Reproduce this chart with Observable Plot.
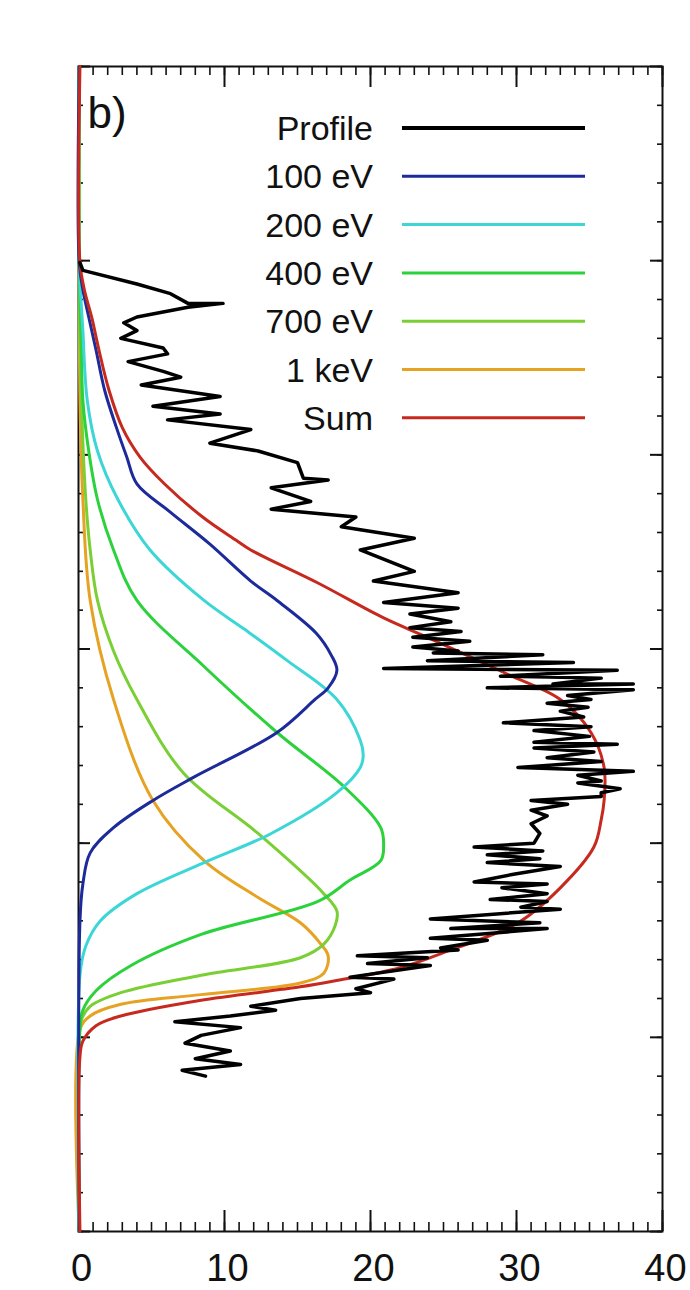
<!DOCTYPE html>
<html><head><meta charset="utf-8">
<script src="https://cdn.jsdelivr.net/npm/d3@7"></script>
<script src="https://cdn.jsdelivr.net/npm/@observablehq/plot@0.6"></script>
<style>
html,body{margin:0;padding:0;background:#fff;}
#chart{position:relative;width:690px;height:1290px;overflow:hidden;}
</style></head><body><div id="chart"></div>
<script>
// ---- data: [depth, intensity] ----
const seriesNames = ["Profile", "100 eV", "200 eV", "400 eV", "700 eV", "1 keV", "Sum"];
const seriesColors = ["#000000", "#1c2a9a", "#3cd6d6", "#2bd23c", "#7acf34", "#e6a222", "#c62a1e"];
const xMajorTicks = [0, 10, 20, 30, 40];
const xMinorTicks = d3.range(0, 41, 1);
const yMajorTicks = [0, 10, 20, 30, 40, 50, 60];
const yMinorTicks = d3.range(0, 61, 2);

const profile = [[10.1,0.1],[10.5,0.3],[11.2,4.0],[11.7,6.3],[12.2,7.5],[12.2,9.9],[12.4,7.5],[12.9,4.0],[13.2,3.1],[13.6,4.0],[14.0,2.9],[14.5,5.8],[14.8,6.1],[15.2,3.4],[15.7,5.8],[16.0,7.0],[16.4,4.3],[17.0,9.7],[17.5,5.1],[17.9,9.7],[18.2,6.1],[18.7,11.8],[19.4,9.0],[19.8,12.3],[20.4,15.0],[21.2,15.4],[21.3,17.1],[21.7,13.2],[22.4,15.9],[22.8,13.2],[23.2,19.0],[23.7,18.0],[24.3,23.0],[24.9,19.3],[26.0,23.0],[26.5,20.2],[27.1,26.0],[27.6,20.9],[27.9,26.0],[28.2,22.7],[28.6,25.5],[28.9,22.7],[29.1,26.2],[29.4,22.9],[29.6,26.8],[29.9,22.9],[30.1,26.0],[30.2,24.3],[30.3,31.8],[30.6,23.9],[30.7,33.9],[31.0,20.9],[31.1,36.9],[31.4,28.9],[31.5,35.8],[31.8,32.5],[31.8,38.0],[32.0,28.0],[32.1,38.0],[32.4,33.5],[32.6,35.1],[32.8,32.1],[33.0,34.9],[33.2,33.0],[33.5,34.6],[33.8,29.1],[34.0,35.1],[34.2,31.2],[34.5,35.0],[34.8,31.2],[34.9,36.9],[35.1,31.2],[35.3,35.3],[35.6,32.1],[35.8,35.8],[36.1,30.1],[36.3,38.0],[36.5,34.2],[36.8,35.8],[36.9,34.2],[37.2,37.1],[37.4,35.8],[37.6,35.8],[37.8,31.0],[38.0,33.5],[38.3,31.0],[38.6,32.1],[39.0,31.0],[39.5,31.6],[40.0,31.2],[40.2,27.1],[40.4,31.8],[40.6,28.0],[40.8,31.6],[41.0,28.0],[41.2,33.0],[41.6,29.8],[42.0,27.1],[42.1,32.1],[42.3,29.0],[42.6,32.1],[42.9,28.2],[43.0,32.1],[43.3,30.3],[43.4,33.0],[43.9,24.1],[44.1,31.6],[44.4,25.5],[44.4,32.1],[44.9,24.1],[45.0,28.0],[45.4,24.8],[45.5,26.0],[45.8,19.1],[45.9,23.9],[46.2,19.8],[46.3,24.1],[46.9,18.6],[47.0,21.6],[47.5,19.0],[47.7,20.0],[48.0,15.2],[48.4,11.8],[48.6,13.5],[48.9,10.4],[49.2,6.6],[49.5,11.1],[49.9,8.4],[50.3,7.3],[50.7,10.4],[51.1,8.0],[51.4,11.1],[51.7,7.1],[52.0,8.7]];

const ev100 = [[0,0.05],[10.1,0.05],[11.5,0.3],[12.9,0.7],[14.6,1.2],[16.7,1.8],[18.6,2.6],[20.1,3.3],[21.5,4.0],[22.9,6.2],[24.6,9.0],[26.5,11.8],[27.5,13.6],[29.2,16.3],[30.3,17.3],[31.1,17.7],[32.0,17.1],[32.6,16.2],[34.3,13.6],[36.6,7.9],[37.8,5.1],[39.2,2.4],[40.5,0.8],[42.1,0.3],[44,0.1],[60,0.05]];

const ev200 = [[0,0.05],[10.1,0.05],[13.6,0.3],[17.2,0.6],[19.8,1.3],[22.3,2.7],[24.9,4.9],[27.5,8.6],[29.0,11.4],[30.6,14.3],[32.6,17.7],[34.7,19.3],[35.5,19.5],[36.1,19.3],[37.4,17.7],[39.5,13.2],[41.0,8.6],[42.6,4.0],[44.0,1.5],[45.3,0.5],[46.8,0.1],[60,0.05]];

const ev400 = [[0,0.05],[10.1,0.05],[14.6,0.2],[17.2,0.3],[19.8,0.7],[22.3,1.3],[24.9,2.4],[27.5,4.0],[30.9,8.6],[34.3,13.6],[37.1,18.2],[39.2,20.7],[40.1,20.9],[40.9,20.7],[41.9,18.6],[43.0,16.4],[44.7,8.4],[46.3,3.6],[47.6,1.2],[48.6,0.3],[49.6,0.1],[60,0.05]];

const ev700 = [[0,0.05],[10.1,0.05],[17.2,0.2],[22.3,0.5],[24.9,0.8],[27.5,1.3],[30.1,2.4],[32.6,4.0],[36.4,7.2],[39.5,12.3],[42.6,16.8],[43.5,17.7],[44.2,17.6],[45.2,16.8],[45.9,15.2],[46.8,8.4],[47.7,2.9],[48.4,0.8],[49.1,0.2],[50.2,0.05],[60,0.05]];

const kev1 = [[0,0.05],[10.1,0.05],[17.2,0.1],[22.3,0.3],[27.5,0.8],[32.6,2.4],[37.8,5.1],[40.9,8.6],[42.8,12.3],[44.1,15.2],[45.2,16.6],[45.8,17.1],[46.7,16.8],[47.2,15.2],[47.8,8.4],[48.3,2.9],[48.9,0.8],[49.6,0.1],[60,0.05]];

const sum = [[0,0.1],[10.1,0.1],[11.5,0.4],[12.9,0.9],[14.6,1.4],[16.7,2.1],[18.6,3.0],[20.1,4.2],[21.5,5.9],[23.2,8.5],[24.4,10.8],[24.9,11.8],[26.6,16.4],[28.4,20.9],[29.4,23.9],[31.3,29.4],[32.6,33.0],[34.3,35.1],[36.1,36.0],[37.8,36.0],[38.8,35.8],[40.2,35.3],[42.3,33.0],[44.1,30.1],[45.5,25.5],[46.4,22.1],[47.1,17.5],[47.4,15.2],[48.1,8.3],[48.9,2.9],[49.4,1.2],[50.2,0.3],[51,0.1],[60,0.1]];

// ---- layout ----
const W = 690, H = 1290;
const mL = 78, mR = 28, mT = 66, mB = 59;
const yUnitPx = (H - mT - mB) / 60;
const xUnitPx = (W - mL - mR) / 40;
const font = "'Liberation Sans', Arial, Helvetica, sans-serif";

function lineMark(data, i, curve) {
  return Plot.line(data, {x: d => d[1], y: d => d[0], stroke: seriesColors[i],
    strokeWidth: i === 0 ? 3.5 : 3, curve: curve, strokeLinejoin: "round"});
}

const plot = Plot.plot({
  width: W, height: H,
  marginLeft: mL, marginRight: mR, marginTop: mT, marginBottom: mB,
  x: {domain: [0, 40]},
  y: {domain: [0, 60], reverse: true, axis: null},
  style: {fontFamily: font, background: "#fff", overflow: "visible", color: "#111"},
  marks: [
    Plot.frame({stroke: "#111", strokeWidth: 2}),
    // x ticks (bottom and top, inward)
    Plot.ruleX(xMinorTicks, {x: d => d, y1: 60, y2: 60 - 9 / yUnitPx, stroke: "#111", strokeWidth: 1.6}),
    Plot.ruleX(xMajorTicks, {x: d => d, y1: 60, y2: 60 - 21 / yUnitPx, stroke: "#111", strokeWidth: 2}),
    Plot.ruleX(xMinorTicks, {x: d => d, y1: 0, y2: 9 / yUnitPx, stroke: "#111", strokeWidth: 1.6}),
    Plot.ruleX(xMajorTicks, {x: d => d, y1: 0, y2: 21 / yUnitPx, stroke: "#111", strokeWidth: 2}),
    // y ticks (left and right, inward)
    Plot.ruleY(yMinorTicks, {y: d => d, x1: 0, x2: 5 / xUnitPx, stroke: "#111", strokeWidth: 1.6}),
    Plot.ruleY(yMajorTicks, {y: d => d, x1: 0, x2: 12 / xUnitPx, stroke: "#111", strokeWidth: 2}),
    Plot.ruleY(yMinorTicks, {y: d => d, x1: 40, x2: 40 - 5 / xUnitPx, stroke: "#111", strokeWidth: 1.6}),
    Plot.ruleY(yMajorTicks, {y: d => d, x1: 40, x2: 40 - 12 / xUnitPx, stroke: "#111", strokeWidth: 2}),
    Plot.axisX(xMajorTicks, {anchor: "bottom", tickSize: 0, tickPadding: 23, fontSize: 38, dx: 3, fill: "#111"}),
    lineMark(kev1, 5, "catmull-rom"),
    lineMark(ev700, 4, "catmull-rom"),
    lineMark(ev400, 3, "catmull-rom"),
    lineMark(ev200, 2, "catmull-rom"),
    lineMark(ev100, 1, "catmull-rom"),
    lineMark(sum, 6, "catmull-rom"),
    lineMark(profile, 0, "linear")
  ]
});

// ---- legend and panel label (inside the frame) ----
const svg = d3.select(plot);
const lg = svg.append("g").attr("font-family", font);
const rowStart = 128, rowStep = 48.3;
seriesNames.forEach((name, i) => {
  const cy = rowStart + i * rowStep;
  lg.append("text").attr("x", 373).attr("y", cy + 12).attr("text-anchor", "end")
    .attr("font-size", 34).attr("fill", "#111").text(name);
  lg.append("line").attr("x1", 402).attr("x2", 585).attr("y1", cy).attr("y2", cy)
    .attr("stroke", seriesColors[i]).attr("stroke-width", i === 0 ? 4 : 3);
});
svg.append("text").attr("x", 107).attr("y", 128).attr("font-family", font)
  .attr("font-size", 44).attr("fill", "#111").text("b)");

document.getElementById("chart").appendChild(plot);
</script>
</body></html>
